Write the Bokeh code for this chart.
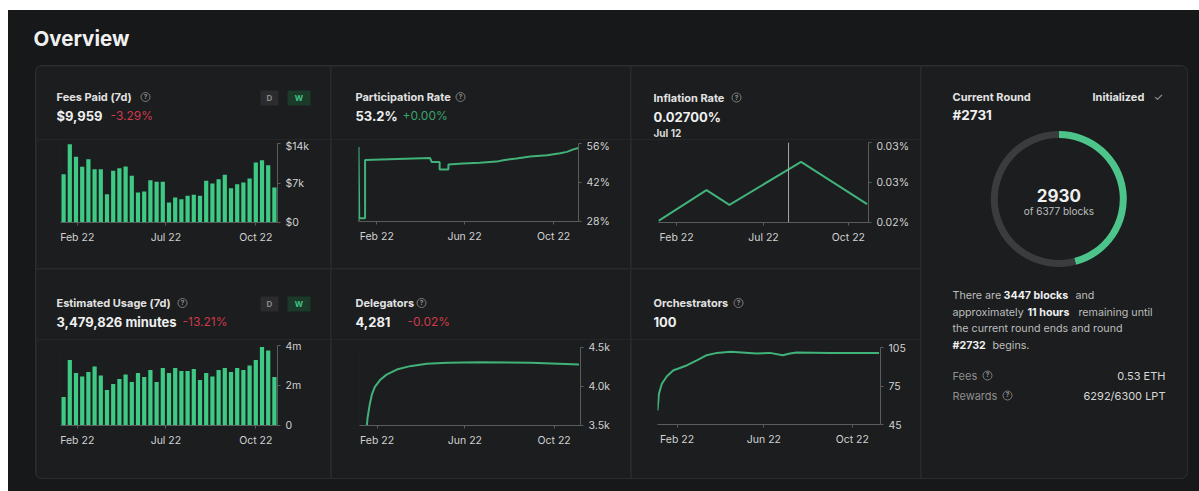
import math
import pandas as pd
from bokeh.plotting import figure
from bokeh.layouts import row, column
from bokeh.models import Range1d, FixedTicker, Span, Spacer
from bokeh.core.properties import value
from bokeh.embed import file_html
from bokeh.resources import INLINE

# ---------------- data ----------------
bar_weeks = list(range(35))
bar_tick_pos = [2.2, 16.5, 31.0]
bar_tick_labels = ["Feb 22", "Jul 22", "Oct 22"]

fees_paid = [8560, 13880, 11640, 9870, 11220, 9450, 9450, 5020, 9160, 9630,
             9920, 8270, 5320, 5490, 7500, 7210, 7210, 3550, 4430, 4140,
             4730, 4900, 4730, 7390, 6910, 7680, 8450, 6090, 6800, 7090,
             7800, 10630, 11050, 10160, 6200]
fees_ticks = [0, 7000, 14000]
fees_tick_labels = ["$0", "$7k", "$14k"]

usage_minutes = [1420000, 3280000, 2620000, 2450000, 2670000, 2950000, 2500000,
                 1780000, 2080000, 2330000, 2550000, 2170000, 2620000, 2420000,
                 2780000, 2170000, 2880000, 2620000, 2880000, 2720000, 2720000,
                 2830000, 2280000, 2620000, 2450000, 2780000, 2880000, 2670000,
                 2870000, 2780000, 3000000, 3280000, 3920000, 3750000, 2420000]
usage_ticks = [0, 2000000, 4000000]
usage_tick_labels = ["0", "2m", "4m"]

line_tick_dates = ["2022-02-01", "2022-06-01", "2022-10-01"]
line_tick_labels = ["Feb 22", "Jun 22", "Oct 22"]

part_dates = ["2022-01-07", "2022-01-07", "2022-01-08", "2022-01-16", "2022-01-16",
              "2022-04-15", "2022-04-17", "2022-04-28", "2022-04-28", "2022-05-10",
              "2022-05-10", "2022-05-30", "2022-06-22", "2022-07-15", "2022-07-24",
              "2022-08-11", "2022-08-30", "2022-09-22", "2022-10-10", "2022-10-19",
              "2022-10-28", "2022-11-04"]
part_rate = [28.2, 54.7, 29.2, 29.2, 50.1, 50.8, 49.4, 49.4, 46.7, 46.7,
             48.5, 48.8, 49.1, 49.5, 50.0, 50.6, 51.3, 51.8, 52.5, 53.0,
             53.9, 54.4]
part_ticks = [28, 42, 56]
part_tick_labels = ["28%", "42%", "56%"]

infl_dates = ["2022-01-06", "2022-03-16", "2022-04-18", "2022-07-30", "2022-11-02"]
infl_rate = [0.02400, 0.02584, 0.02496, 0.02754, 0.02500]
infl_hover_date = "2022-07-12"
infl_tick_dates = ["2022-02-01", "2022-06-06", "2022-10-06"]
infl_tick_labels = ["Feb 22", "Jul 22", "Oct 22"]
infl_ticks = [0.0239, 0.0263, 0.0287]
infl_tick_labels_y = ["0.02%", "0.03%", "0.03%"]

deleg_dates = ["2022-01-08", "2022-01-18", "2022-01-19", "2022-01-22", "2022-01-25",
               "2022-01-29", "2022-02-05", "2022-02-14", "2022-02-28", "2022-03-18",
               "2022-04-10", "2022-05-08", "2022-06-22", "2022-08-30", "2022-11-04"]
deleg_count = [3490, 3495, 3596, 3770, 3900, 3996, 4083, 4152, 4217, 4261,
               4291, 4304, 4310, 4306, 4283]
deleg_ticks = [3500, 4000, 4500]
deleg_tick_labels = ["3.5k", "4.0k", "4.5k"]

orch_dates = ["2022-01-05", "2022-01-07", "2022-01-11", "2022-01-18", "2022-01-27",
              "2022-02-03", "2022-02-15", "2022-03-01", "2022-03-14", "2022-03-28",
              "2022-04-16", "2022-05-22", "2022-06-09", "2022-06-27", "2022-07-07",
              "2022-07-16", "2022-08-31", "2022-11-07"]
orch_count = [55.9, 69.0, 76.8, 82.6, 87.3, 88.6, 91.2, 95.1, 99.0, 100.8,
              101.6, 100.3, 100.8, 99.0, 100.3, 101.1, 100.8, 100.8]
orch_ticks = [45, 75, 105]
orch_tick_labels = ["45", "75", "105"]

round_blocks = [2930, 3447]   # elapsed, remaining (of 6377)

# ---------------- style ----------------
FONT = "Inter"
OUTER = "#161819"
CELL = "#1b1d1e"
DIV = "#282a2b"
WHITE = "#f0f0f0"
TITLE = "#e2e2e2"
SUB = "#8e8e8e"
AXIS = "#5a5d5e"
TICKTXT = "#d2d2d2"
BAR = "#3ec985"
LINE = "#41b279"
RED = "#cf3a4c"
GTXT = "#3aa56b"
TSIZE = 11


def ms(d):
    return pd.Timestamp(d).value // 10**6


def text_fig(w, h, yflip=True):
    yr = Range1d(h, 0) if yflip else Range1d(0, h)
    p = figure(width=w, height=h, x_range=Range1d(0, w), y_range=yr,
               x_axis_location=None, y_axis_location=None,
               output_backend="svg", toolbar_location=None, min_border=0,
               background_fill_color=CELL, border_fill_color=CELL,
               outline_line_color=None, frame_align=False)
    p.grid.visible = False
    return p


def txt(p, x, y, s, size, color, bold=False, align="left"):
    p.text(x=[x], y=[y], text=[s], text_font=value(FONT),
           text_font_size=f"{size}px", text_color=color,
           text_font_style="bold" if bold else "normal",
           text_align=align, text_baseline="middle")


def icon(p, x, y):
    p.scatter(x=[x], y=[y], size=9, marker="circle", fill_color=None,
              line_color="#7d7d7d", line_width=1)
    txt(p, x, y + 0.3, "?", 6.5, "#8d8d8d", bold=True, align="center")


def toggle(p, y0, y1):
    p.quad(left=[224], right=[242], top=[y0], bottom=[y1], fill_color="#2a2c2d", line_color=None)
    p.quad(left=[251], right=[274], top=[y0], bottom=[y1], fill_color="#1c3a2a", line_color=None)
    txt(p, 233, (y0 + y1) / 2, "D", 8, "#8a8a8a", bold=True, align="center")
    txt(p, 262.5, (y0 + y1) / 2, "W", 8, "#41c486", bold=True, align="center")


def chart(w, h, l, r, t, b, xr, yr, xticks, xlabels, yticks, ylabels, dt=False):
    p = figure(width=w, height=h, x_range=xr, y_range=yr,
               x_axis_type="datetime" if dt else "linear", y_axis_location="right",
               output_backend="svg", toolbar_location=None,
               min_border_left=l, min_border_right=r, min_border_top=t, min_border_bottom=b,
               background_fill_color=CELL, border_fill_color=CELL, outline_line_color=None,
               frame_align=False)
    p.grid.visible = False
    p.xaxis.ticker = FixedTicker(ticks=xticks)
    p.xaxis.major_label_overrides = dict(zip(xticks, xlabels))
    p.yaxis.ticker = FixedTicker(ticks=yticks)
    p.yaxis.major_label_overrides = dict(zip(yticks, ylabels))
    for ax in (p.xaxis[0], p.yaxis[0]):
        ax.axis_line_color = AXIS
        ax.major_tick_line_color = AXIS
        ax.minor_tick_line_color = None
        ax.major_tick_out = 3
        ax.major_tick_in = 0
        ax.major_label_text_font = FONT
        ax.major_label_text_font_size = "10.5px"
        ax.major_label_text_color = TICKTXT
        ax.major_label_standoff = 5
    return p


# ---------------- header ----------------
header = figure(width=1191, height=56, x_range=Range1d(0, 1191), y_range=Range1d(56, 0),
                x_axis_location=None, y_axis_location=None, output_backend="svg",
                toolbar_location=None, min_border=0, background_fill_color=OUTER,
                border_fill_color=OUTER, outline_line_color=None, frame_align=False)
header.grid.visible = False
header.text(x=[25], y=[28], text=["Overview"], text_font=value(FONT), text_font_size="20.5px",
            text_font_style="bold", text_color=WHITE, text_baseline="middle")

# ---------------- cell 1: fees ----------------
t1 = text_fig(294, 73)
txt(t1, 20, 30.5, "Fees Paid (7d)", TSIZE, TITLE, bold=True)
icon(t1, 109, 30.5)
txt(t1, 20, 49, "$9,959", 13, WHITE, bold=True)
txt(t1, 74, 49, "-3.29%", 12, RED)
toggle(t1, 24, 39)
c1 = chart(294, 129, 24, 53, 4, 46, Range1d(-0.5, 34.5), Range1d(0, 14000),
           bar_tick_pos, bar_tick_labels, fees_ticks, fees_tick_labels)
c1.vbar(x=bar_weeks, top=fees_paid, width=0.68, bottom=0, fill_color=BAR, line_color=None)
cell1 = column(t1, c1)

# ---------------- cell 2: participation ----------------
t2 = text_fig(299, 73)
txt(t2, 24, 30.5, "Participation Rate", TSIZE, TITLE, bold=True)
icon(t2, 129, 30.5)
txt(t2, 24, 49, "53.2%", 13, WHITE, bold=True)
txt(t2, 71, 49, "+0.00%", 12, GTXT)
c2 = chart(299, 129, 27, 52, 4, 47, Range1d(ms("2022-01-07"), ms("2022-11-04")), Range1d(28, 56),
           [ms(d) for d in line_tick_dates], line_tick_labels, part_ticks, part_tick_labels, dt=True)
c2.line(x=[ms(d) for d in part_dates], y=part_rate, line_color=LINE, line_width=2)
cell2 = column(t2, c2)

# ---------------- cell 3: inflation ----------------
t3 = text_fig(289, 73)
txt(t3, 22, 31, "Inflation Rate", TSIZE, TITLE, bold=True)
icon(t3, 105, 31)
txt(t3, 22, 50, "0.02700%", 13, WHITE, bold=True)
txt(t3, 22, 66.5, "Jul 12", 10, "#dcdcdc", bold=True)
c3 = chart(289, 129, 27, 52, 3, 46, Range1d(ms("2022-01-06"), ms("2022-11-04")),
           Range1d(infl_ticks[0], infl_ticks[-1]),
           [ms(d) for d in infl_tick_dates], infl_tick_labels, infl_ticks, infl_tick_labels_y, dt=True)
c3.line(x=[ms(d) for d in infl_dates], y=infl_rate, line_color=LINE, line_width=2)
c3.add_layout(Span(location=ms(infl_hover_date), dimension="height", line_color="#a8a8a8", line_width=1))
cell3 = column(t3, c3)

# ---------------- cell 4: usage ----------------
t4 = text_fig(294, 70)
txt(t4, 20, 33.5, "Estimated Usage (7d)", TSIZE, TITLE, bold=True)
icon(t4, 146, 33.5)
txt(t4, 20, 52, "3,479,826 minutes", 13, WHITE, bold=True)
txt(t4, 146, 52, "-13.21%", 12, RED)
toggle(t4, 27, 42)
c4 = chart(294, 139, 24, 53, 6, 53, Range1d(-0.5, 34.5), Range1d(0, 4000000),
           bar_tick_pos, bar_tick_labels, usage_ticks, usage_tick_labels)
c4.vbar(x=bar_weeks, top=usage_minutes, width=0.68, bottom=0, fill_color=BAR, line_color=None)
cell4 = column(t4, c4)

# ---------------- cell 5: delegators ----------------
t5 = text_fig(299, 70)
txt(t5, 24, 33.5, "Delegators", TSIZE, TITLE, bold=True)
icon(t5, 90, 33.5)
txt(t5, 24, 52, "4,281", 13, WHITE, bold=True)
txt(t5, 76, 52, "-0.02%", 12, RED)
c5 = chart(299, 139, 28, 50, 8, 53, Range1d(ms("2022-01-08"), ms("2022-11-06")), Range1d(3500, 4500),
           [ms(d) for d in line_tick_dates], line_tick_labels, deleg_ticks, deleg_tick_labels, dt=True)
c5.line(x=[ms(d) for d in deleg_dates], y=deleg_count, line_color=LINE, line_width=2)
cell5 = column(t5, c5)

# ---------------- cell 6: orchestrators ----------------
t6 = text_fig(289, 70)
txt(t6, 22, 33.5, "Orchestrators", TSIZE, TITLE, bold=True)
icon(t6, 107, 33.5)
txt(t6, 22, 52, "100", 13, WHITE, bold=True)
c6 = chart(289, 139, 26, 40, 8, 54, Range1d(ms("2022-01-05"), ms("2022-11-09")), Range1d(45, 105),
           [ms(d) for d in line_tick_dates], line_tick_labels, orch_ticks, orch_tick_labels, dt=True)
c6.line(x=[ms(d) for d in orch_dates], y=orch_count, line_color=LINE, line_width=2)
cell6 = column(t6, c6)

# ---------------- right panel: current round ----------------
H = 412
rp = text_fig(266, H, yflip=False)


def rtxt(x, y, s, size, color, bold=False, align="left"):
    txt(rp, x, H - y, s, size, color, bold, align)


rtxt(31, 30, "Current Round", TSIZE, TITLE, bold=True)
rtxt(31, 48.5, "#2731", 13.5, WHITE, bold=True)
rtxt(171, 30, "Initialized", TSIZE, TITLE, bold=True)
rtxt(232, 30, "✓", 11, "#9aa3a0")

total = sum(round_blocks)
starts, ends, acc = [], [], 0
for v in round_blocks:
    starts.append(math.pi / 2 - 2 * math.pi * acc / total)
    acc += v
    ends.append(math.pi / 2 - 2 * math.pi * acc / total)
rp.annular_wedge(x=[137.3] * 2, y=[H - 132.5] * 2, inner_radius=61, outer_radius=68,
                 inner_radius_units="screen", outer_radius_units="screen",
                 start_angle=starts, end_angle=ends, direction="clock",
                 fill_color=["#4cc48a", "#3a3c3d"], line_color=None)
rtxt(137.3, 129, f"{round_blocks[0]}", 17, WHITE, bold=True, align="center")
rtxt(137.3, 144.7, f"of {total} blocks", 10, "#bdbdbd", align="center")

PG = "#bdbdbd"
PS = 10.7
rtxt(31, 229, "There are", PS, PG)
rtxt(82, 229, "3447 blocks", PS, WHITE, bold=True)
rtxt(154, 229, "and", PS, PG)
rtxt(31, 245.7, "approximately", PS, PG)
rtxt(106, 245.7, "11 hours", PS, WHITE, bold=True)
rtxt(157, 245.7, "remaining until", PS, PG)
rtxt(31, 262.3, "the current round ends and round", PS, PG)
rtxt(31, 279, "#2732", PS, WHITE, bold=True)
rtxt(71, 279, "begins.", PS, PG)

rtxt(31, 309, "Fees", 11, SUB)
icon(rp, 66, H - 309)
rtxt(244, 309, "0.53 ETH", 11, "#d6d6d6", align="right")
rtxt(31, 329, "Rewards", 11, SUB)
icon(rp, 86, H - 329)
rtxt(244, 329, "6292/6300 LPT", 11, "#d6d6d6", align="right")

# ---------------- layout ----------------
grid = column(row(cell1, cell2, cell3, spacing=1),
              row(cell4, cell5, cell6, spacing=1), spacing=1)
inner = row(grid, rp, spacing=1,
            styles={"background-color": DIV, "border-radius": "6px", "overflow": "hidden",
                    "box-shadow": "0 0 0 1px #2b2d2e"})
dark = column(header, row(Spacer(width=28, height=412), inner), Spacer(width=10, height=13),
              styles={"background-color": OUTER})
root = column(Spacer(width=10, height=10), row(Spacer(width=8, height=481), dark))

open("out.html", "w").write(file_html(root, INLINE))
